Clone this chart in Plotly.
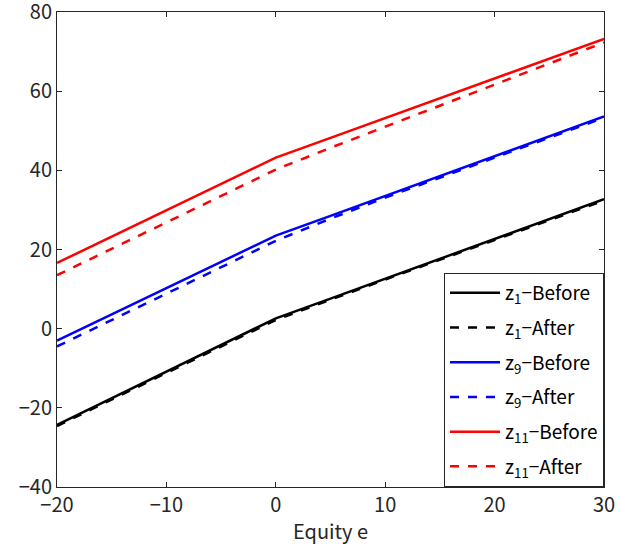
import plotly.graph_objects as go

equity = [-20, -10, 0, 5, 10, 20, 30]

z1_before = [-24.3, -10.8, 2.6, 7.6, 12.6, 22.6, 32.7]
z1_after = [-24.6, -11.2, 2.2, 7.3, 12.4, 22.4, 32.4]
z9_before = [-3.0, 10.2, 23.5, 28.5, 33.5, 43.5, 53.6]
z9_after = [-4.5, 8.8, 22.2, 27.8, 33.1, 43.2, 53.3]
z11_before = [16.6, 29.9, 43.2, 48.2, 53.2, 63.2, 73.2]
z11_after = [13.5, 26.8, 40.2, 45.7, 51.0, 61.6, 72.3]

SUB = "<sub>{}</sub>"
series = [
    ("z" + SUB.format("1") + "−Before", z1_before, "black", "solid"),
    ("z" + SUB.format("1") + "−After", z1_after, "black", "dash"),
    ("z" + SUB.format("9") + "−Before", z9_before, "blue", "solid"),
    ("z" + SUB.format("9") + "−After", z9_after, "blue", "dash"),
    ("z" + SUB.format("11") + "−Before", z11_before, "red", "solid"),
    ("z" + SUB.format("11") + "−After", z11_after, "red", "dash"),
]

FONT = "Noto Sans CJK JP, Noto Sans, sans-serif"

fig = go.Figure()
for i, (name, ys, color, dash) in enumerate(series):
    fig.add_trace(go.Scatter(x=equity, y=ys, mode="lines", name=name,
                             legendgroup=f"g{i}",
                             line=dict(color=color, width=2.5, dash=dash)))

axis_common = dict(showgrid=False, zeroline=False, showline=True, linecolor="#262626",
                   linewidth=1, mirror="ticks", ticks="inside", ticklen=5,
                   tickcolor="#262626", ticklabeloverflow="allow", automargin=False,
                   tickfont=dict(size=20, color="#262626", family=FONT))

fig.update_xaxes(range=[-20, 30], tickvals=[-20, -10, 0, 10, 20, 30],
                 ticktext=["−20", "−10", "0", "10", "20", "30"],
                 title=dict(text="Equity e", font=dict(size=20, color="#262626", family=FONT), standoff=7),
                 **axis_common)
fig.update_yaxes(range=[-40, 80], tickvals=[-40, -20, 0, 20, 40, 60, 80],
                 ticktext=["−40", "−20", "0", "20", "40", "60", "80"],
                 **axis_common)

fig.update_layout(
    width=620, height=552,
    margin=dict(l=57, r=16, t=12, b=65),
    plot_bgcolor="white", paper_bgcolor="white",
    font=dict(family=FONT, color="black"),
    legend=dict(x=1, y=0, xanchor="right", yanchor="bottom",
                bgcolor="white", bordercolor="#262626", borderwidth=1,
                font=dict(size=19, family=FONT, color="black"),
                tracegroupgap=7, itemwidth=50),
)

fig.write_html("out.html", config={"displayModeBar": False},
               post_script="document.body.style.margin='0';")
